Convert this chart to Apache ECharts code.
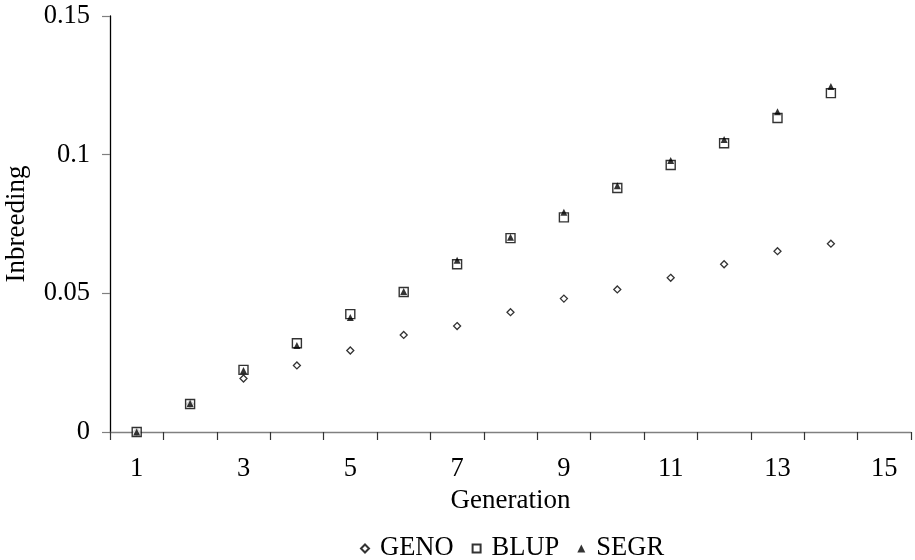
<!DOCTYPE html>
<html><head><meta charset="utf-8">
<script src="https://cdn.jsdelivr.net/npm/echarts@6/dist/echarts.min.js"></script>
<style>html,body{margin:0;padding:0;background:#fff}#c{width:915px;height:560px}</style>
</head><body><div id="c"></div>
<script>
const categories = ['1','2','3','4','5','6','7','8','9','10','11','12','13','14','15'];
const geno = [0, 0.0101, 0.0193, 0.0240, 0.0294, 0.0350, 0.0382, 0.0432, 0.0481, 0.0514, 0.0556, 0.0605, 0.0652, 0.0679];
const blup = [0, 0.0101, 0.0224, 0.0320, 0.0425, 0.0505, 0.0605, 0.0699, 0.0774, 0.0880, 0.0963, 0.1041, 0.1132, 0.1222];
const segr = [0, 0.0103, 0.0222, 0.0312, 0.0413, 0.0507, 0.0619, 0.0702, 0.0792, 0.0888, 0.0979, 0.1055, 0.1155, 0.1246];
const yTicks = [0, 0.05, 0.1, 0.15];

const font = 'Liberation Serif';
const chart = echarts.init(document.getElementById('c'), null, {renderer: 'canvas'});
chart.setOption({
  animation: false,
  backgroundColor: '#fff',
  grid: {left: 110, right: 4, top: 16, bottom: 128, containLabel: false, outerBoundsMode: 'none'},
  xAxis: {
    type: 'category', data: categories, boundaryGap: true,
    name: 'Generation', nameLocation: 'middle', nameGap: 55,
    nameTextStyle: {fontFamily: font, fontSize: 27, color: '#000'},
    axisLine: {lineStyle: {color: '#808080', width: 1.3}},
    axisTick: {show: true, interval: 0, length: 8, alignWithLabel: false, lineStyle: {color: '#333', width: 1.2}},
    axisLabel: {interval: 1, fontFamily: font, fontSize: 26.5, color: '#000', margin: 24}
  },
  yAxis: {
    type: 'value', min: 0, max: 0.15, interval: 0.05,
    name: 'Inbreeding', nameLocation: 'middle', nameGap: 80,
    nameTextStyle: {fontFamily: font, fontSize: 27, color: '#000'},
    splitLine: {show: false},
    axisLine: {show: true, lineStyle: {color: '#000', width: 1.3}},
    axisTick: {show: true, length: 8, lineStyle: {color: '#808080', width: 1.2}},
    axisLabel: {fontFamily: font, fontSize: 26.5, color: '#000', margin: 20,
      formatter: v => { const t = yTicks.find(x => Math.abs(x - v) < 1e-9); return t === undefined ? '' : String(t); }}
  },
  legend: {
    top: 535, left: 360, itemGap: 18, itemWidth: 8, itemHeight: 8, padding: 0,
    textStyle: {fontFamily: font, fontSize: 26.5, color: '#000', padding: [0, 0, 0, 6]},
    data: ['GENO', 'BLUP', 'SEGR']
  },
  series: [
    {name: 'GENO', type: 'scatter', data: geno, symbol: 'diamond', symbolSize: 7,
     itemStyle: {color: '#fff', borderColor: '#000', borderWidth: 1.3}},
    {name: 'BLUP', type: 'scatter', data: blup, symbol: 'rect', symbolSize: 9,
     itemStyle: {color: '#fff', borderColor: '#000', borderWidth: 1.4}},
    {name: 'SEGR', type: 'scatter', data: segr, symbol: 'triangle', symbolSize: 7,
     itemStyle: {color: '#000', borderColor: '#000', borderWidth: 0}}
  ]
});
</script></body></html>
